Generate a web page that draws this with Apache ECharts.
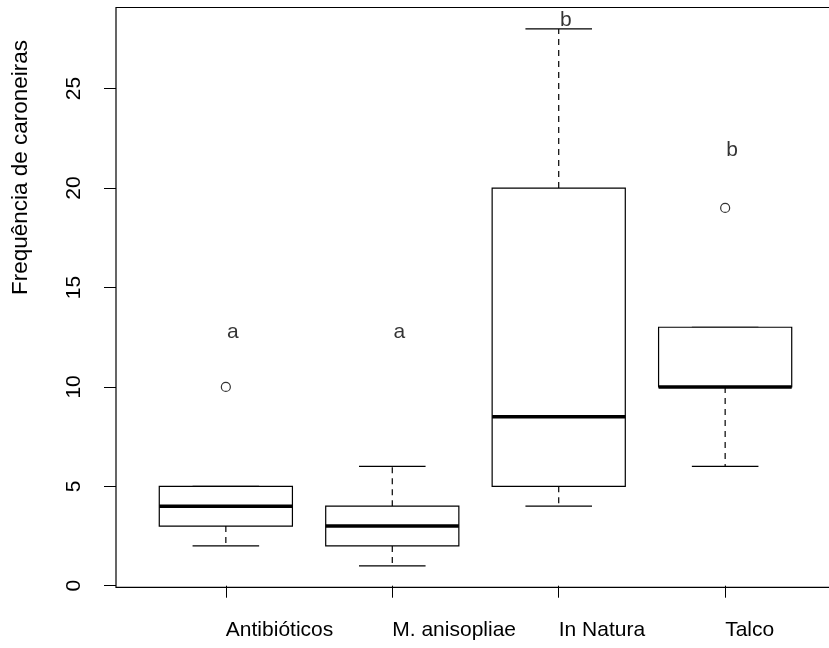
<!DOCTYPE html>
<html>
<head>
<meta charset="utf-8">
<title>Frequência de caroneiras</title>
<script src="https://cdn.jsdelivr.net/npm/echarts@6/dist/echarts.min.js"></script>
<style>
  html, body { margin: 0; padding: 0; background: #fff; }
  #chart { width: 829px; height: 648px; }
</style>
</head>
<body>
<div id="chart"></div>
<script>
// Treatments and their five-number summaries
const categories = ['Antibióticos', 'M. anisopliae', 'In Natura', 'Talco'];
const whiskerLow  = [2, 1, 4, 6];
const quartile1   = [3, 2, 5, 10];
const medians     = [4, 3, 8.5, 10];
const quartile3   = [5, 4, 20, 13];
const whiskerHigh = [5, 6, 28, 13];

// Points beyond the whiskers: treatment index (1-based) and value
const outlierGroup = [1, 4];
const outlierValue = [10, 19];

// Significance letters and the height they sit at
const letters = ['a', 'a', 'b', 'b'];
const letterY = [12.75, 12.75, 28.45, 21.9];

// Axis ticks
const yTicks = [0, 5, 10, 15, 20, 25];
const xTicks = [1, 2, 3, 4];

const FONT = "'Liberation Sans', Arial, Helvetica, sans-serif";
const FS = 21;

const boxData = categories.map((c, i) => [i + 1, whiskerLow[i], quartile1[i], medians[i], quartile3[i], whiskerHigh[i]]);
const outlierData = outlierGroup.map((g, i) => [g, outlierValue[i]]);
const letterData = letters.map((l, i) => [i + 1, letterY[i]]);

const chart = echarts.init(document.getElementById('chart'), null, { renderer: 'canvas' });

function renderBox(params, api) {
  const x = api.value(0);
  const lo = api.coord([x, api.value(1)]);
  const q1 = api.coord([x, api.value(2)]);
  const md = api.coord([x, api.value(3)]);
  const q3 = api.coord([x, api.value(4)]);
  const hi = api.coord([x, api.value(5)]);
  const boxW = api.size([0.8, 0])[0];
  const capW = api.size([0.4, 0])[0];
  const cx = q1[0];
  const dash = { stroke: '#000', lineWidth: 1.2, lineDash: [6, 5] };
  const solid = { stroke: '#000', lineWidth: 1.2 };
  return {
    type: 'group',
    children: [
      { type: 'line', shape: { x1: cx, y1: q1[1], x2: cx, y2: lo[1] }, style: dash },
      { type: 'line', shape: { x1: cx, y1: q3[1], x2: cx, y2: hi[1] }, style: dash },
      { type: 'line', shape: { x1: cx - capW / 2, y1: lo[1], x2: cx + capW / 2, y2: lo[1] }, style: solid },
      { type: 'line', shape: { x1: cx - capW / 2, y1: hi[1], x2: cx + capW / 2, y2: hi[1] }, style: solid },
      { type: 'rect', shape: { x: cx - boxW / 2, y: q3[1], width: boxW, height: q1[1] - q3[1] },
        style: { fill: '#fff', stroke: '#000', lineWidth: 1.2 } },
      { type: 'line', shape: { x1: cx - boxW / 2, y1: md[1], x2: cx + boxW / 2, y2: md[1] },
        style: { stroke: '#000', lineWidth: 3.5 } }
    ]
  };
}

const option = {
  animation: false,
  backgroundColor: '#fff',
  grid: {
    left: 116, top: 7.5, width: 719, height: 579.8,
    outerBoundsMode: 'none', containLabel: false,
    show: true, borderColor: '#000', borderWidth: 1.2, backgroundColor: 'transparent'
  },
  xAxis: {
    type: 'value', min: 0.34, max: 4.66,
    splitLine: { show: false },
    axisLine: { show: false },
    axisTick: { show: true, customValues: xTicks, length: 12, lineStyle: { color: '#000', width: 1 } },
    axisLabel: {
      customValues: xTicks, align: 'left', margin: 32,
      color: '#000', fontSize: FS, fontFamily: FONT,
      formatter: v => categories[Math.round(v) - 1] || ''
    }
  },
  yAxis: {
    type: 'value', min: -0.08, max: 29.08,
    splitLine: { show: false },
    axisLine: { show: false },
    axisTick: { show: true, customValues: yTicks, length: 12, lineStyle: { color: '#000', width: 1 } },
    axisLabel: {
      customValues: yTicks, rotate: 90, margin: 31,
      color: '#000', fontSize: FS, fontFamily: FONT
    }
  },
  graphic: [{
    type: 'text', x: 20.6, y: 167.5, rotation: Math.PI / 2,
    style: {
      text: 'Frequência de caroneiras', fill: '#000',
      font: '22.5px ' + FONT, textAlign: 'center', textVerticalAlign: 'middle'
    }
  }],
  series: [
    {
      type: 'custom', renderItem: renderBox, data: boxData,
      encode: { x: 0, y: [1, 2, 3, 4, 5] }, z: 2
    },
    {
      type: 'scatter', data: outlierData, symbol: 'circle', symbolSize: 9,
      itemStyle: { color: '#fff', borderColor: '#000', borderWidth: 1.2 }, z: 3
    },
    {
      type: 'scatter', data: letterData, symbolSize: 0, z: 4,
      label: {
        show: true, position: 'inside', offset: [7, 0],
        color: '#000', fontSize: FS, fontFamily: FONT,
        formatter: p => letters[p.dataIndex]
      }
    }
  ]
};

chart.setOption(option);
</script>
</body>
</html>
